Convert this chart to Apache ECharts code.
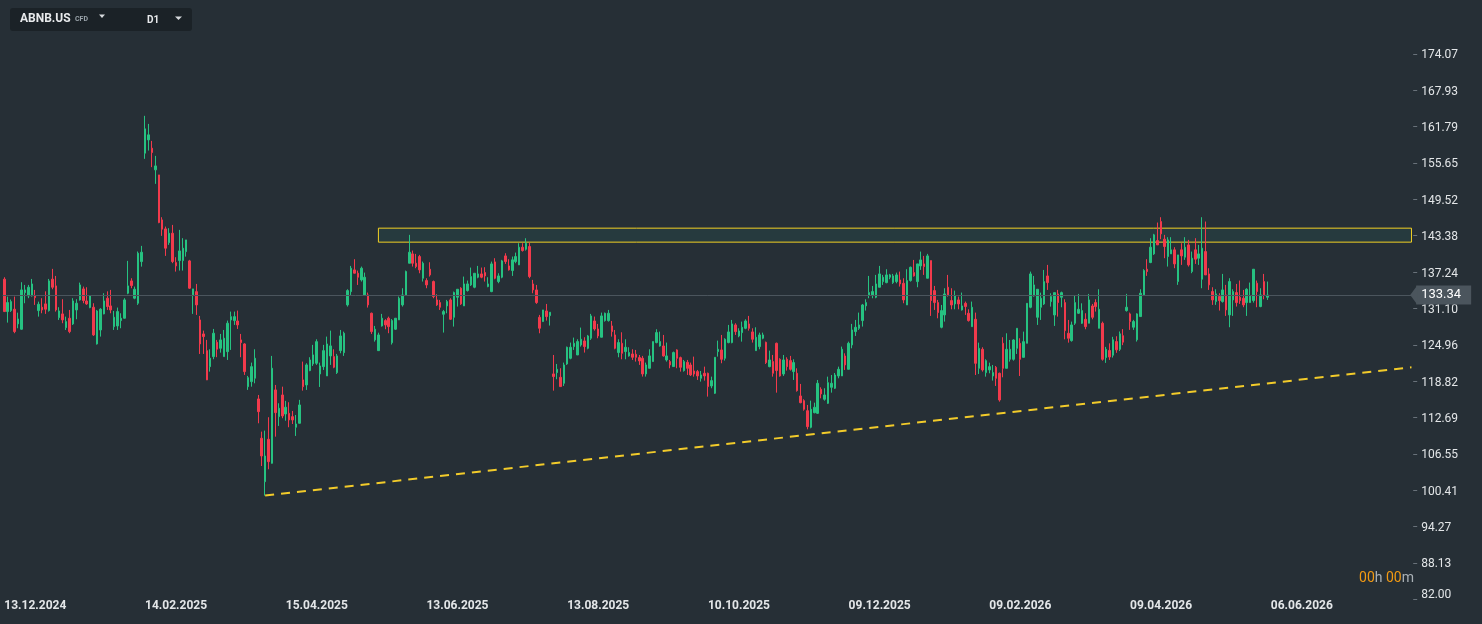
<!DOCTYPE html>
<html>
<head>
<meta charset="utf-8">
<title>ABNB.US D1</title>
<script src="https://cdn.jsdelivr.net/npm/echarts@6/dist/echarts.min.js"></script>
<style>
  html, body { margin: 0; padding: 0; background: #262f36; }
  #chart { width: 1482px; height: 624px; }
</style>
</head>
<body>
<div id="chart"></div>
<script>
// daily candles, each row: [open, high, low, close]
const ohlc = [
  [136.03,136.36,130.5,130.56],[130.56,133.09,128.70,132.08],[130.73,132.6,130.5,132.25],[130.96,133.09,126.91,127.18],
  [128.48,130.38,127.75,129.32],[127.58,135.52,127.5,134.22],[133.76,135.06,131.97,134.22],[133.21,135.06,132.82,134.67],
  [133.21,136.07,133.1,135.23],[133.21,134.22,131.69,132.92],[130.73,132.24,129.71,131.80],[131.30,132.82,130.28,130.84],
  [131.86,133.98,130.17,130.96],[130.73,136.07,130.56,135.74],[136.03,137.77,134.33,134.67],[134.90,136.58,130.56,130.84],
  [129.54,131.30,129.15,130.67],[130.17,132.65,128.60,129.16],[127.85,129.71,127.46,128.87],[129.44,130.84,126.91,127.18],
  [128.48,132.82,128.31,132.36],[130.84,132.65,129.27,131.97],[132.53,135.45,132.42,135.06],[134.39,134.78,131.97,132.42],
  [132.36,134.67,131.69,131.86],[131.24,133.3,131.13,133.21],[131.30,131.97,126.45,126.62],[125.10,130.84,125.0,130.67],
  [127.46,131.13,126.34,130.96],[130.17,133.66,130.1,132.36],[132.82,133.98,130.84,131.41],[131.52,134.22,130.28,130.84],
  [128.02,130.67,127.46,129.61],[128.14,131.24,127.46,130.56],[129.04,130.28,127.75,129.44],[129.44,132.82,129.4,132.53],
  [133.66,139.12,133.5,134.90],[135.74,136.19,134.50,134.95],[132.82,134.78,132.65,134.33],[131.97,140.70,131.69,140.42],
  [139.0,141.65,138.15,140.58],[157.30,163.60,156.34,161.40],[159.54,162.24,157.74,160.39],[158.14,159.37,154.94,157.40],
  [154.48,156.84,152.12,155.15],[153.63,153.63,145.48,145.58],[146.04,146.49,143.34,144.47],[144.52,144.91,139.96,141.26],
  [142.20,144.64,141.82,143.79],[143.79,145.19,138.73,139.0],[138.83,139.74,137.31,138.27],[139.17,144.35,137.48,140.80],
  [139.17,142.95,137.48,141.26],[140.68,142.66,139.84,142.66],[139.12,139.29,134.39,134.51],[133.37,134.39,130.17,134.39],
  [133.93,135.23,130.0,131.69],[129.15,129.83,123.41,125.10],[126.79,127.35,123.41,126.34],[123.97,125.78,119.0,119.03],
  [121.27,124.20,120.43,122.69],[122.96,127.63,122.52,126.91],[125.39,125.78,122.86,124.21],[124.37,126.79,123.63,125.78],
  [122.96,127.46,122.96,126.07],[123.80,129.04,122.40,128.60],[129.15,130.56,124.09,129.71],[129.04,130.56,128.31,129.71],
  [128.98,130.73,127.63,128.31],[125.78,126.79,122.86,125.32],[125.10,125.22,119.87,120.43],[117.89,119.70,117.34,119.41],
  [118.74,121.95,117.89,121.27],[119.31,124.20,118.46,122.69],[115.82,116.49,111.71,113.67],[109.18,110.30,104.50,106.19],
  [101.85,110.47,99.5,106.19],[109.01,112.73,103.95,105.23],[104.96,123.08,104.9,121.0],[117.34,118.18,109.45,113.50],
  [112.83,115.09,111.26,114.25],[116.49,117.89,112.56,112.95],[113.28,115.49,112.14,114.42],[113.39,115.26,111.04,112.27],
  [112.83,113.79,111.59,112.27],[111.04,113.11,109.57,111.59],[111.71,115.66,111.7,114.80],[119.03,122.12,117.22,117.89],
  [118.18,121.84,117.34,121.56],[120.60,122.86,120.5,122.40],[121.73,124.94,121.39,123.25],[121.84,125.89,121.56,125.49],
  [120.03,121.95,117.84,121.39],[121.27,124.94,120.71,123.97],[119.70,126.34,119.7,125.10],[123.08,127.35,121.56,124.77],
  [122.96,124.20,121.0,121.17],[120.26,123.42,120.03,123.08],[123.97,127.46,123.53,126.45],[123.63,127.18,123.08,126.91],
  [131.69,134.33,131.41,134.10],[133.93,138.27,133.37,137.88],[137.60,139.40,137.0,137.04],[137.04,137.48,135.06,136.36],
  [135.91,138.16,135.63,137.88],[133.37,137.14,133.21,136.36],[133.37,133.77,131.24,131.69],[130.28,130.39,126.79,127.18],
  [125.78,128.14,125.49,127.58],[123.97,127.0,123.97,126.62],[128.14,130.17,128.03,129.44],[129.04,129.27,127.58,128.31],
  [129.44,129.71,126.91,128.02],[125.3,129.3,125.0,129.04],[127.58,129.44,127.46,129.44],[129.16,133.10,129.16,132.81],
  [131.69,134.50,131.41,133.37],[133.37,137.48,133.37,137.32],[138.72,143.51,138.72,140.58],[140.30,140.86,138.16,138.72],
  [138.72,140.30,137.88,138.16],[139.85,140.13,137.03,137.60],[136.19,139.0,135.63,138.72],[135.80,136.19,134.50,135.06],
  [137.71,138.89,136.47,136.75],[135.63,135.8,132.81,133.09],[132.53,133.49,131.52,131.69],[132.08,132.53,130.84,131.29],
  [130.11,130.84,127.02,130.56],[131.52,132.53,130.28,132.25],[132.53,132.81,129.16,129.27],[129.60,133.94,128.03,133.77],
  [132.98,134.33,131.41,134.33],[134.50,134.67,131.69,131.86],[131.52,136.47,131.52,135.23],[134.11,135.80,133.94,135.23],
  [135.06,137.99,134.89,136.47],[134.67,137.03,134.50,137.03],[136.36,138.27,136.19,136.92],[136.92,137.99,136.19,136.36],
  [137.15,138.05,135.63,136.58],[134.78,136.36,134.67,135.23],[133.94,139.0,133.83,138.61],[138.95,139.57,136.02,136.19],
  [135.63,137.03,135.35,136.58],[136.36,139.29,136.19,139.12],[139.96,140.41,138.61,139.0],[138.27,139.40,137.48,137.60],
  [137.48,139.85,136.58,139.29],[139.0,140.52,138.72,139.85],[138.44,142.10,138.44,141.42],[141.42,142.10,140.69,140.86],
  [141.09,142.94,140.86,142.10],[141.54,142.21,136.19,136.47],[135.23,135.91,133.66,134.22],[134.22,135.06,131.86,132.08],
  [129.60,130.0,126.90,127.75],[128.87,130.84,128.87,130.84],[130.67,131.85,129.04,129.72],[129.88,130.45,128.20,130.45],
  [120.04,123.24,117.22,119.59],[120.26,121.72,119.14,120.82],[119.47,121.0,117.90,117.90],[118.46,121.95,118.01,121.56],
  [121.72,124.65,121.56,124.54],[122.68,125.33,122.51,124.54],[124.65,126.17,124.09,125.21],[123.24,125.89,123.24,125.50],
  [124.93,127.86,124.65,125.89],[125.61,126.23,123.64,124.65],[124.37,126.62,124.20,126.45],[126.06,130.17,125.78,129.83],
  [128.98,129.72,127.35,127.63],[127.63,128.48,126.06,126.45],[126.23,130.39,126.23,129.83],[129.04,130.39,128.87,130.28],
  [129.04,130.84,128.87,130.28],[128.14,128.98,126.34,127.18],[126.62,127.46,124.20,124.37],[123.64,125.89,122.85,125.33],
  [125.21,127.07,122.51,123.52],[123.81,125.89,122.51,124.54],[123.08,124.54,122.96,123.64],[123.41,124.20,122.40,122.85],
  [123.36,124.09,122.12,122.85],[122.80,123.24,121.56,122.23],[122.68,123.08,119.59,120.04],[120.04,121.95,119.59,121.56],
  [120.99,124.20,120.99,123.08],[122.12,125.50,122.12,125.50],[125.33,127.58,125.21,127.02],[124.76,127.18,124.65,125.50],
  [124.76,126.62,122.96,123.08],[122.40,125.33,122.12,123.08],[122.12,122.40,120.99,121.56],[121.28,123.81,121.28,123.64],
  [124.09,124.20,121.0,122.68],[122.79,122.96,120.43,121.16],[120.60,122.40,120.43,122.12],[122.0,122.40,119.87,120.99],
  [121.55,121.95,119.70,119.87],[120.54,122.96,119.58,120.03],[120.43,120.71,119.02,119.70],[119.30,120.54,118.74,119.87],
  [120.15,121.27,118.91,119.70],[120.15,120.26,116.21,117.90],[118.01,119.58,117.62,118.91],[116.77,122.85,116.66,122.85],
  [123.81,125.66,122.96,124.20],[124.09,126.62,121.84,122.51],[122.68,126.06,122.29,125.89],[125.33,128.31,125.21,127.13],
  [125.33,129.15,125.21,128.48],[128.31,128.59,126.62,127.18],[126.45,127.75,126.23,127.29],[127.01,128.87,125.49,127.91],
  [127.74,129.26,127.58,128.98],[128.48,129.83,127.35,127.74],[127.13,127.74,125.33,125.89],[123.97,127.91,123.97,126.23],
  [124.65,127.01,124.20,126.62],[126.06,127.01,125.89,126.62],[125.38,125.49,121.72,121.95],[121.27,123.97,121.16,122.40],
  [122.12,123.24,119.58,120.15],[125.21,125.33,116.88,120.60],[122.51,122.68,119.58,119.70],[120.03,123.24,119.70,122.40],
  [122.51,122.85,120.60,121.27],[122.29,123.08,120.60,120.82],[120.43,122.51,119.02,121.95],[120.15,120.99,117.05,117.22],
  [116.32,118.35,115.08,115.19],[115.53,115.76,113.84,114.07],[113.84,114.80,110.69,111.14],[111.03,115.53,110.86,114.07],
  [113.50,115.19,113.39,114.41],[113.39,119.02,113.28,118.46],[117.45,117.78,115.92,116.66],[115.76,117.62,115.53,116.49],
  [115.08,119.58,114.97,118.57],[117.78,119.86,116.88,118.46],[117.62,120.2,117.5,119.86],[119.70,121.27,119.30,120.82],
  [119.70,124.65,119.70,124.20],[123.07,123.52,120.71,121.55],[120.82,125.49,120.82,125.21],[124.93,128.48,124.37,127.46],
  [127.18,129.15,126.45,127.91],[127.74,130.39,127.46,128.31],[129.04,131.85,128.03,131.68],[131.52,132.64,130.73,132.08],
  [133.37,136.58,132.81,133.77],[133.37,134.89,132.81,133.94],[132.98,136.75,132.81,135.23],[134.67,138.27,134.67,136.92],
  [135.62,136.75,135.06,136.36],[135.45,137.71,135.34,136.75],[136.36,136.92,136.02,136.75],[135.45,136.92,135.23,136.58],
  [135.62,137.14,135.34,136.75],[135.90,137.31,134.78,135.23],[135.34,136.19,131.97,132.53],[131.68,137.71,131.68,135.79],
  [135.79,138.16,135.62,138.04],[137.14,139.28,136.47,136.58],[135.62,138.61,134.67,138.61],[138.27,140.69,137.60,139.28],
  [138.61,139.96,136.75,138.16],[136.19,140.3,136.19,139.96],[139.17,139.17,129.83,132.42],[134.10,134.89,130.84,132.08],
  [132.08,132.53,129.43,130.39],[127.91,131.68,127.74,130.73],[130.0,134.50,128.87,133.54],[134.67,136.75,133.09,133.37],
  [132.42,134.50,130.95,131.68],[131.85,134.10,130.95,133.20],[132.53,133.09,130.95,131.85],[130.84,133.77,130.73,131.52],
  [131.96,132.25,130.0,131.40],[130.28,130.95,128.87,129.04],[128.02,132.25,128.02,131.29],[129.26,130.39,119.86,121.83],
  [120.99,125.32,120.03,124.37],[124.20,124.54,120.43,120.71],[120.26,122.51,119.58,122.28],[120.71,121.94,120.15,121.27],
  [119.69,121.55,118.91,120.26],[121.16,121.38,118.01,119.30],[120.15,120.26,115.36,115.64],[125.21,126.23,119.47,120.99],
  [120.99,126.90,120.99,124.20],[122.51,125.77,122.12,124.20],[122.51,125.88,122.28,125.77],[124.37,127.74,123.41,127.74],
  [125.21,126.06,119.69,122.51],[122.84,127.18,122.84,125.49],[125.21,131.96,125.21,131.96],[131.29,137.31,131.12,136.92],
  [133.20,136.58,133.09,135.06],[129.60,134.33,128.31,134.33],[131.29,133.76,129.15,132.81],[131.85,137.59,131.68,135.62],
  [136.58,138.44,134.22,135.45],[132.25,133.65,131.40,133.09],[129.99,133.76,128.14,133.76],[133.54,134.22,129.71,132.08],
  [132.98,133.93,131.29,133.76],[132.08,132.64,125.88,127.35],[126.90,129.15,125.32,126.06],[125.66,128.87,125.49,128.31],
  [128.59,133.20,128.31,132.08],[130.28,133.54,130.16,130.95],[128.59,131.96,128.48,130.73],[129.26,130.28,127.58,128.02],
  [128.59,133.54,128.59,132.53],[131.51,131.85,129.26,129.60],[132.08,132.64,130.56,131.40],[127.74,134.33,127.74,130.95],
  [128.59,128.87,122.28,122.51],[122.8,124.6,121.9,124.2],[124.0,125.2,122.4,122.9],[123.2,126.3,122.8,125.8],
  [125.5,126.4,123.6,124.1],[124.2,127.2,123.9,126.8],[126.5,127.6,124.9,125.4],[130.73,133.55,130.56,131.30],
  [130.17,130.39,127.47,128.88],[127.92,129.16,127.47,128.88],[125.8,130.28,125.5,130.17],[129.72,134.33,129.72,133.66],
  [133.38,137.71,133.21,137.49],[137.71,139.40,136.59,137.32],[138.84,142.95,138.73,141.43],[140.30,143.68,140.13,143.51],
  [142.55,145.59,141.82,141.82],[145.76,146.49,142.78,143.68],[142.78,143.51,139.57,141.54],[139.85,143.12,138.16,142.66],
  [140.30,143.12,140.30,140.98],[140.98,141.43,137.88,138.61],[135.63,140.13,135.07,140.13],[140.98,142.10,138.44,139.96],
  [139.74,143.12,139.29,141.43],[141.82,142.66,138.16,138.44],[137.32,140.69,137.04,139.57],[140.98,142.95,138.61,139.40],
  [139.57,141.82,138.44,140.30],[136.02,146.49,134.50,141.26],[140.69,145.76,136.75,136.75],[136.92,137.88,134.22,135.07],
  [133.94,134.67,131.69,132.53],[132.25,134.33,131.69,133.55],[133.10,133.66,130.73,132.42],[132.25,136.92,132.08,134.22],
  [133.38,135.07,129.83,130.84],[130.0,136.19,127.92,135.63],[132.53,134.33,129.83,133.94],[133.77,135.23,131.41,132.08],
  [132.98,135.80,131.86,132.42],[132.81,134.22,131.30,131.69],[132.08,134.50,129.83,134.33],[132.08,135.46,132.08,133.21],
  [132.42,137.71,132.08,137.71],[135.35,135.80,131.30,133.94],[131.41,134.50,131.30,133.38],[135.63,136.92,132.64,133.38],
  [132.98,135.63,132.53,133.34]
];

const slotCount = 411;   // candles plus empty future slots
const xTickIndex = [0, 41, 82, 123, 164, 205, 246, 287, 328, 369];
const xTickLabels = ['13.12.2024', '14.02.2025', '15.04.2025', '13.06.2025', '13.08.2025',
  '10.10.2025', '09.12.2025', '09.02.2026', '09.04.2026', '06.06.2026'];
const yTickValues = [82.00, 88.13, 94.27, 100.41, 106.55, 112.69, 118.82, 124.96, 131.10,
  137.24, 143.38, 149.52, 155.65, 161.79, 167.93, 174.07];
const lastPrice = 133.34;
const zoneTop = 144.64, zoneBottom = 142.28, zoneStart = 109, zoneEnd = 410;
const trendStart = [76, 99.5], trendEnd = [410, 121.17];

const upColor = '#26c281';
const downColor = '#f23a4c';
const textColor = '#e3e6e8';
const tagColor = '#4b555d';

const gridLeft = 2.6, gridTop = 40, gridWidth = 1410.6, gridHeight = 559.3;

const chart = echarts.init(document.getElementById('chart'));

const categories = [];
for (let i = 0; i < slotCount; i++) categories.push(String(i));
// echarts wants [open, close, lowest, highest]
const candleData = ohlc.map(r => [r[0], r[3], r[2], r[1]]);

const option = {
  backgroundColor: '#262f36',
  animation: false,
  grid: { left: gridLeft, top: gridTop, width: gridWidth, height: gridHeight },
  xAxis: {
    type: 'category',
    data: categories,
    boundaryGap: true,
    axisLine: { show: false },
    axisTick: { show: false },
    splitLine: { show: false },
    axisLabel: {
      interval: (idx) => xTickIndex.indexOf(idx) >= 0,
      formatter: (v, idx) => xTickLabels[xTickIndex.indexOf(idx)] || '',
      align: 'left',
      margin: 1,
      color: textColor,
      fontSize: 12,
      fontWeight: 'bold',
      fontFamily: 'Roboto'
    }
  },
  yAxis: {
    type: 'value',
    position: 'right',
    min: 82,
    max: 176.4,
    splitLine: { show: false },
    axisLine: { show: false },
    axisTick: {
      show: true,
      length: 4,
      lineStyle: { color: '#69727a' },
      customValues: yTickValues
    },
    axisLabel: {
      customValues: yTickValues,
      margin: 8,
      padding: [3, 0, 0, 0],
      color: textColor,
      fontSize: 12,
      fontFamily: 'Roboto',
      formatter: (v) => v === yTickValues[0] ? '{lo|' + v.toFixed(2) + '}' : v.toFixed(2),
      rich: {
        lo: { padding: [0, 0, 12, 0], color: textColor, fontSize: 12, fontFamily: 'Roboto' }
      }
    }
  },
  series: [
    {
      type: 'candlestick',
      data: candleData,
      barWidth: 2,
      itemStyle: {
        color: upColor,
        color0: downColor,
        borderColor: upColor,
        borderColor0: downColor,
        borderWidth: 1
      },
      markArea: {
        silent: true,
        itemStyle: {
          color: 'rgba(40,160,140,0.10)',
          borderColor: '#f2d024',
          borderWidth: 1
        },
        data: [[
          { xAxis: zoneStart, yAxis: zoneTop },
          { xAxis: zoneEnd, yAxis: zoneBottom }
        ]]
      },
      markLine: {
        silent: true,
        symbol: ['none', 'none'],
        lineStyle: { color: tagColor, width: 1, type: 'solid' },
        label: {
          show: true,
          position: 'end',
          distance: 3,
          formatter: () => lastPrice.toFixed(2),
          color: '#ffffff',
          backgroundColor: tagColor,
          padding: [3, 10, 2, 5],
          lineHeight: 14,
          fontSize: 13,
          fontFamily: 'Roboto'
        },
        data: [{ yAxis: lastPrice }]
      }
    },
    {
      type: 'line',
      data: [trendStart, trendEnd],
      symbol: 'none',
      silent: true,
      lineStyle: { color: '#f2cb2a', width: 2, type: [9, 7] }
    }
  ],
  graphic: [
    { type: 'rect', left: 10, top: 8, shape: { width: 182, height: 23, r: 3 }, style: { fill: '#1b2227' } },
    { type: 'text', left: 20, top: 13, style: { text: 'ABNB.US', fill: '#e8eaec', font: 'bold 12px Roboto' } },
    { type: 'text', left: 75, top: 16, style: { text: 'CFD', fill: '#9aa3aa', font: 'bold 7px Roboto' } },
    { type: 'polygon', shape: { points: [[99, 14.5], [105, 14.5], [102, 18]] }, style: { fill: '#d7dadd' } },
    { type: 'text', left: 147, top: 15, style: { text: 'D1', fill: '#e8eaec', font: 'bold 10px Roboto' } },
    { type: 'polygon', shape: { points: [[175, 16.5], [182, 16.5], [178.5, 20]] }, style: { fill: '#d7dadd' } },
    {
      type: 'text', right: 68, top: 571,
      style: {
        text: '{o|00}{g|h }{o|00}{g|m}',
        rich: {
          o: { fill: '#f39a12', font: '14px Roboto' },
          g: { fill: '#aab1b6', font: '14px Roboto' }
        }
      }
    }
  ]
};

chart.setOption(option);

// pointed left edge of the last-price tag, placed from the axis scale
const tagY = chart.convertToPixel({ yAxisIndex: 0 }, lastPrice);
const tagX = gridLeft + gridWidth;
chart.setOption({
  graphic: [{
    type: 'polygon',
    id: 'priceTagArrow',
    z: 10,
    shape: { points: [[tagX - 3, tagY], [tagX + 4, tagY - 9.5], [tagX + 4, tagY + 9.5]] },
    style: { fill: tagColor }
  }]
});
</script>
</body>
</html>
